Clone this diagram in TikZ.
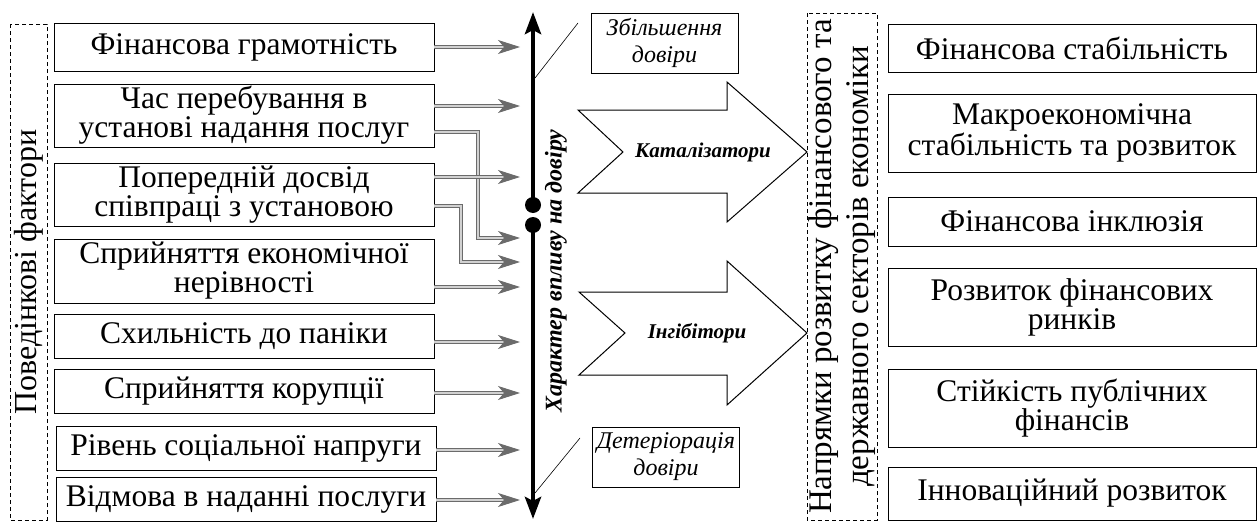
\documentclass[tikz,border=0pt]{standalone}
\usepackage{fontspec}
\setmainfont{Liberation Serif}
\usetikzlibrary{arrows.meta,calc}
\begin{document}
\begin{tikzpicture}[x=1pt,y=-1pt,
  box/.style={draw, line width=0.8pt, align=center, inner sep=0pt, font=\fontsize{31.5}{29}\selectfont},
  side/.style={draw, line width=0.6pt, dash pattern=on 4pt off 3pt, align=center, inner sep=0pt, rotate=90},
  note/.style={draw, line width=0.7pt, align=center, inner sep=0pt, minimum width=147pt, minimum height=60pt, font=\fontsize{24}{27}\selectfont\itshape},
  dbl/.style={draw=black!58, line width=0.9pt, double=black!18, double distance=1.6pt, -{Stealth[length=22pt,width=14pt,inset=6pt]}},
  axis/.style={line width=4.5pt, -{Stealth[length=22pt,width=16pt,inset=4pt]}},
  dot/.style={circle, fill=black, inner sep=0pt, minimum size=16pt},
  big/.style={draw, line width=1pt, fill=white},
  biglabel/.style={font=\fontsize{21}{25}\selectfont\bfseries\itshape}
]
\useasboundingbox (0,0) rectangle (1258,522);

% left dashed group
\node[side, minimum width=496pt, minimum height=37pt, font=\fontsize{32}{34}\selectfont] (lg) at (28.5,272) {Поведінкові фактори};

% left boxes
\node[box, minimum width=380pt, minimum height=48pt] (b1) at (244,47) {Фінансова грамотність};
\node[box, minimum width=380pt, minimum height=63pt] (b2) at (244,115.5) {Час перебування в\\установі надання послуг};
\node[box, minimum width=380pt, minimum height=63pt] (b3) at (244,194.5) {Попередній досвід\\співпраці з установою};
\node[box, minimum width=380pt, minimum height=64pt] (b4) at (244,271) {Сприйняття економічної\\нерівності};
\node[box, minimum width=380pt, minimum height=44pt] (b5) at (244,336) {Схильність до паніки};
\node[box, minimum width=380pt, minimum height=44pt] (b6) at (244,391) {Сприйняття корупції};
\node[box, minimum width=380pt, minimum height=44pt] (b7) at (246,448) {Рівень соціальної напруги};
\node[box, minimum width=380pt, minimum height=44pt] (b8) at (246,499) {Відмова в наданні послуги};

% axis
\coordinate (axT) at (533,12);
\coordinate (axB) at (533,519);
\node[dot] (d1) at (533,205) {};
\node[dot] (d2) at (533,225) {};
\draw[axis] (d1.center) -- (axT);
\draw[axis] (d2.center) -- (axB);
\node[rotate=90, font=\fontsize{24}{28}\selectfont\bfseries\itshape] (axl) at (556,271) {Характер впливу на довіру};

% arrow tips
\coordinate (t1) at (520,47);
\coordinate (t2a) at (520,106);
\coordinate (j2) at (478,132);
\coordinate (t2b) at (520,238);
\coordinate (t3a) at (520,177);
\coordinate (j3) at (461,206);
\coordinate (t3b) at (520,262);
\coordinate (t4) at (520,287);
\coordinate (t5) at (520,342);
\coordinate (t6) at (520,393);
\coordinate (t7) at (520,450);
\coordinate (t8) at (520,500);

\draw[dbl] (b2.east |- j2) -- (j2) |- (t2b);
\draw[dbl] (b3.east |- j3) -- (j3) |- (t3b);
\draw[dbl] (b1.east |- t1) -- (t1);
\draw[dbl] (b2.east |- t2a) -- (t2a);
\draw[dbl] (b3.east |- t3a) -- (t3a);
\draw[dbl] (b4.east |- t4) -- (t4);
\draw[dbl] (b5.east |- t5) -- (t5);
\draw[dbl] (b6.east |- t6) -- (t6);
\draw[dbl] (b7.east |- t7) -- (t7);
\draw[dbl] (b8.east |- t8) -- (t8);

% notes
\node[note] (up) at (664.5,43) {Збільшення\\довіри};
\node[note] (down) at (666,457) {Детеріорація\\довіри};
\coordinate (u1) at (535,78);
\coordinate (u2) at (578,23);
\coordinate (w1) at (580,438);
\coordinate (w2) at (535,493);
\draw[line width=0.6pt] (u1) -- (u2);
\draw[line width=0.6pt] (w1) -- (w2);

% big arrows
\draw[big] (578,110) -- (727,110) -- (727,82) -- (807,152) -- (727,222) -- (727,193) -- (578,193) -- (623,152) -- cycle;
\node[biglabel] (cat) at (703,152) {Каталізатори};
\draw[big] (579,292) -- (727,292) -- (727,261) -- (807,333) -- (727,405) -- (727,375) -- (579,375) -- (625,333) -- cycle;
\node[biglabel] (inh) at (697,333) {Інгібітори};

% right dashed group
\node[side, minimum width=507pt, minimum height=70pt, font=\fontsize{33}{37}\selectfont] (rg) at (842,266.5) {Напрямки розвитку фінансового та\\державного секторів економіки};

% right boxes
\node[box, minimum width=368pt, minimum height=48pt] (r1) at (1072,48) {Фінансова стабільність};
\node[box, minimum width=368pt, minimum height=78pt] (r2) at (1072,133) {Макроекономічна\\стабільність та розвиток};
\node[box, minimum width=368pt, minimum height=49pt] (r3) at (1072,221.5) {Фінансова інклюзія};
\node[box, minimum width=368pt, minimum height=78pt] (r4) at (1072,307) {Розвиток фінансових\\ринків};
\node[box, minimum width=368pt, minimum height=78pt] (r5) at (1072,408) {Стійкість публічних\\фінансів};
\node[box, minimum width=368pt, minimum height=53pt] (r6) at (1072,493.5) {Інноваційний розвиток};
\end{tikzpicture}
\end{document}
